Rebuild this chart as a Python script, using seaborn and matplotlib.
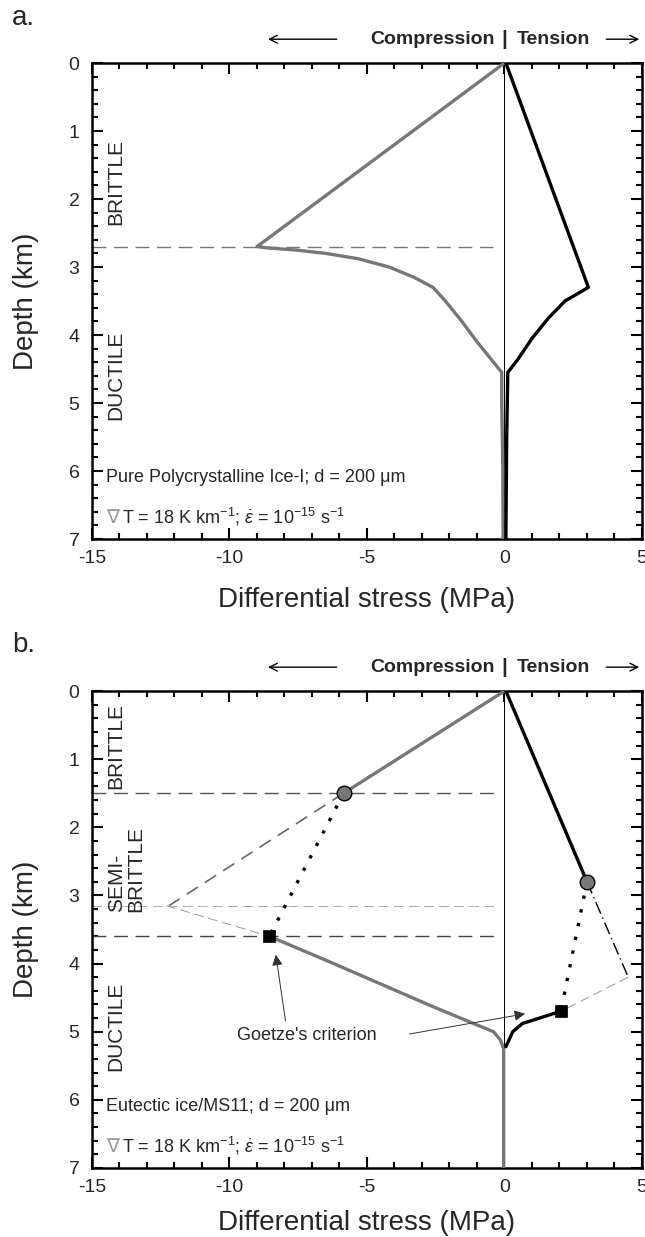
import matplotlib
matplotlib.use("Agg")
import matplotlib.pyplot as plt
from matplotlib.ticker import MultipleLocator
import seaborn as sns

# ---- panel a: pure polycrystalline ice-I ----
a_comp_stress = [0.0, -9.0, -8.6, -7.6, -6.5, -5.3, -4.2, -3.3, -2.6, -2.15, -1.55, -1.0, -0.4, -0.1,
                 -0.1, -0.06, -0.05]
a_comp_depth = [0.0, 2.7, 2.72, 2.75, 2.8, 2.88, 3.0, 3.15, 3.3, 3.5, 3.8, 4.1, 4.4, 4.55,
                5.0, 6.0, 7.0]
a_tens_stress = [0.05, 3.05, 2.2, 1.6, 1.0, 0.5, 0.12, 0.08, 0.05]
a_tens_depth = [0.0, 3.3, 3.5, 3.75, 4.05, 4.35, 4.55, 5.5, 7.0]
a_bdt_depth = 2.7

# ---- panel b: eutectic ice / MS11 ----
b_comp_brittle_stress = [0.0, -5.85]
b_comp_brittle_depth = [0.0, 1.5]
b_comp_ductile_stress = [-8.55, -6.5, -4.5, -2.5, -0.4, -0.15, -0.03, -0.03]
b_comp_ductile_depth = [3.6, 3.95, 4.3, 4.65, 5.0, 5.12, 5.25, 7.0]
b_tens_brittle_stress = [0.05, 3.0]
b_tens_brittle_depth = [0.0, 2.8]
b_tens_ductile_stress = [2.05, 0.65, 0.3, 0.05]
b_tens_ductile_depth = [4.7, 4.88, 5.0, 5.22]

# extrapolated brittle / ductile laws
b_comp_brittle_ext_stress = [-5.85, -12.2]
b_comp_brittle_ext_depth = [1.5, 3.15]
b_comp_ductile_ext_stress = [-12.3, -8.55]
b_comp_ductile_ext_depth = [3.15, 3.6]
b_tens_brittle_ext_stress = [3.0, 4.5]
b_tens_brittle_ext_depth = [2.8, 4.2]
b_tens_ductile_ext_stress = [4.5, 2.05]
b_tens_ductile_ext_depth = [4.2, 4.7]

# Goetze's criterion points
goetze_circle_stress = [-5.85, 3.0]
goetze_circle_depth = [1.5, 2.8]
goetze_square_stress = [-8.55, 2.05]
goetze_square_depth = [3.6, 4.7]

b_levels = [1.5, 3.15, 3.6]
b_level_colors = ["#555555", "#aaaaaa", "#444444"]
b_level_widths = [1.0, 0.7, 1.0]

sns.set_style("ticks")
plt.rcParams["font.family"] = ["Liberation Sans", "DejaVu Sans"]
plt.rcParams["mathtext.fontset"] = "custom"
plt.rcParams["mathtext.rm"] = "Liberation Sans"
plt.rcParams["mathtext.it"] = "Liberation Sans:italic"
plt.rcParams["axes.unicode_minus"] = False

GREY = "#777777"
DASH = (0, (10, 5.5))

fig = plt.figure(figsize=(6.45, 12.37), dpi=100)
ax_a = fig.add_axes([92 / 645, 1 - 539 / 1237, 550 / 645, 476 / 1237])
ax_b = fig.add_axes([92 / 645, 1 - 1168 / 1237, 550 / 645, 477 / 1237])


def style_axes(ax, label_y):
    ax.axvline(0, color="black", lw=0.7, zorder=1)
    ax.set_xlim(-15, 5)
    ax.set_ylim(7, 0)
    ax.xaxis.set_major_locator(MultipleLocator(5))
    ax.xaxis.set_minor_locator(MultipleLocator(1))
    ax.yaxis.set_major_locator(MultipleLocator(1))
    ax.yaxis.set_minor_locator(MultipleLocator(0.2))
    ax.tick_params(which="both", direction="in", top=True, right=True,
                   width=1.5, labelsize=14, color="black")
    ax.tick_params(which="major", length=8)
    ax.tick_params(which="minor", length=4)
    ax.tick_params(axis="x", pad=8)
    ax.tick_params(axis="y", pad=9)
    for s in ax.spines.values():
        s.set_linewidth(1.8)
        s.set_color("black")
    ax.set_xlabel("Differential stress (MPa)", fontsize=20)
    ax.set_ylabel("Depth (km)", fontsize=20)
    ax.xaxis.set_label_coords(0.5, label_y)
    ax.yaxis.set_label_coords(-0.12, 0.5)
    ax.xaxis.label.set_va("center")
    ax.yaxis.label.set_va("center")

    # compression | tension header
    tr = ax.get_xaxis_transform()
    yh = 1.05
    ax.text(-0.35, yh, "Compression", transform=tr, ha="right", va="center",
            fontsize=14, fontweight="bold")
    ax.text(0, yh, "|", transform=tr, ha="center", va="center",
            fontsize=15, fontweight="bold")
    ax.text(0.45, yh, "Tension", transform=tr, ha="left", va="center",
            fontsize=14, fontweight="bold")
    ax.annotate("", xy=(-8.7, yh), xytext=(-6.0, yh), xycoords=tr, textcoords=tr,
                arrowprops=dict(arrowstyle="->", lw=1.0, color="black", mutation_scale=14))
    ax.annotate("", xy=(5.0, yh), xytext=(3.6, yh), xycoords=tr, textcoords=tr,
                arrowprops=dict(arrowstyle="->", lw=1.0, color="black", mutation_scale=14),
                annotation_clip=False)


def line(ax, x, y, **kw):
    sns.lineplot(x=x, y=y, sort=False, estimator=None, ax=ax, **kw)


# ---------------- panel a ----------------
ax = ax_a
ax.hlines(a_bdt_depth, -15, -0.4, color=GREY, lw=1.0, linestyles=[DASH], zorder=2)
line(ax, a_comp_stress, a_comp_depth, color=GREY, lw=2.4, zorder=3)
line(ax, a_tens_stress, a_tens_depth, color="black", lw=2.4, zorder=4)
style_axes(ax, -0.128)

ax.text(-14.15, 1.75, "BRITTLE", rotation=90, ha="center", va="center", fontsize=15)
ax.text(-14.15, 4.6, "DUCTILE", rotation=90, ha="center", va="center", fontsize=15)
ax.text(-14.5, 6.1, "Pure Polycrystalline Ice-I; d = 200 μm", ha="left", va="center", fontsize=13)
ax.text(-14.5, 6.68, "∇", ha="left", va="center", fontsize=14, color="#999999",
        family=["DejaVu Sans"])
ax.text(-13.92, 6.68, r"T = 18 K km$^{-1}$; $\dot{\varepsilon}$ = 10$^{-15}$ s$^{-1}$",
        ha="left", va="center", fontsize=13)

# ---------------- panel b ----------------
ax = ax_b
for lev, c, w in zip(b_levels, b_level_colors, b_level_widths):
    ax.hlines(lev, -15, -0.3, color=c, lw=w, linestyles=[DASH], zorder=2)

line(ax, b_comp_brittle_ext_stress, b_comp_brittle_ext_depth, color="#666666", lw=1.2,
     linestyle=(0, (8, 5)), zorder=2)
line(ax, b_comp_ductile_ext_stress, b_comp_ductile_ext_depth, color="#999999", lw=0.7,
     linestyle=(0, (10, 5)), zorder=2)
line(ax, b_tens_brittle_ext_stress, b_tens_brittle_ext_depth, color="black", lw=1.0,
     linestyle=(0, (9, 3, 1, 3)), zorder=2)
line(ax, b_tens_ductile_ext_stress, b_tens_ductile_ext_depth, color="#999999", lw=0.7,
     linestyle=(0, (10, 5)), zorder=2)

line(ax, b_comp_brittle_stress, b_comp_brittle_depth, color=GREY, lw=2.4, zorder=3)
line(ax, b_comp_ductile_stress, b_comp_ductile_depth, color=GREY, lw=2.4, zorder=3)
line(ax, b_tens_brittle_stress, b_tens_brittle_depth, color="black", lw=2.4, zorder=4)
line(ax, b_tens_ductile_stress, b_tens_ductile_depth, color="black", lw=2.4, zorder=4)

for i in range(len(goetze_circle_stress)):
    line(ax, [goetze_circle_stress[i], goetze_square_stress[i]],
         [goetze_circle_depth[i], goetze_square_depth[i]],
         color="black", lw=2.4, linestyle=(0, (1, 3.2)), zorder=4)

sns.scatterplot(x=goetze_circle_stress, y=goetze_circle_depth, marker="o", s=110,
                color=GREY, edgecolor="black", linewidth=1.0, zorder=6, ax=ax)
sns.scatterplot(x=goetze_square_stress, y=goetze_square_depth, marker="s", s=80,
                color="black", edgecolor="black", linewidth=0.5, zorder=6, ax=ax)
style_axes(ax, -0.116)

ax.text(-7.2, 5.05, "Goetze's criterion", ha="center", va="center", fontsize=13)
ax.annotate("", xy=(-8.33, 3.83), xytext=(-7.95, 4.88),
            arrowprops=dict(arrowstyle="-|>", lw=0.7, color="#333333", mutation_scale=16))
ax.annotate("", xy=(0.85, 4.73), xytext=(-3.55, 5.04),
            arrowprops=dict(arrowstyle="-|>", lw=0.7, color="#333333", mutation_scale=16))

ax.text(-14.15, 0.8, "BRITTLE", rotation=90, ha="center", va="center", fontsize=15)
ax.text(-13.75, 3.24, "SEMI-\nBRITTLE", rotation=90, ha="center", va="bottom",
        multialignment="left", fontsize=15, linespacing=1.0)
ax.text(-14.15, 4.92, "DUCTILE", rotation=90, ha="center", va="center", fontsize=15)
ax.text(-14.5, 6.1, "Eutectic ice/MS11; d = 200 μm", ha="left", va="center", fontsize=13)
ax.text(-14.5, 6.68, "∇", ha="left", va="center", fontsize=14, color="#999999",
        family=["DejaVu Sans"])
ax.text(-13.92, 6.68, r"T = 18 K km$^{-1}$; $\dot{\varepsilon}$ = 10$^{-15}$ s$^{-1}$",
        ha="left", va="center", fontsize=13)

fig.text(12 / 645, 1 - 18 / 1237, "a.", fontsize=20, ha="left", va="center")
fig.text(12 / 645, 1 - 645 / 1237, "b.", fontsize=20, ha="left", va="center")

fig.savefig("out.png", dpi=100)
